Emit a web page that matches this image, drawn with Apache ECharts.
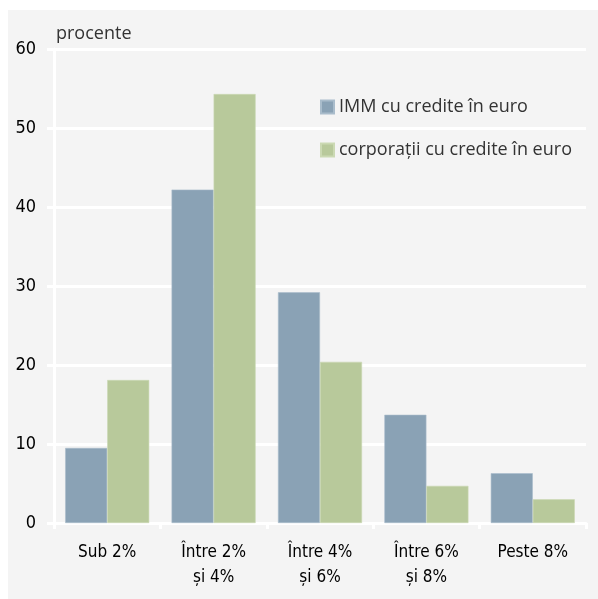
<!DOCTYPE html>
<html><head><meta charset="utf-8">
<script src="https://cdn.jsdelivr.net/npm/echarts@6/dist/echarts.min.js"></script>
<style>
html,body{margin:0;padding:0;background:#fff;width:598px;height:599px;overflow:hidden}
#c{position:absolute;left:8px;top:10px;width:590px;height:589px;background:#f4f4f4}
</style></head><body><div id="c"></div>
<script>
const categories = ['Sub 2%', 'Între 2%\nși 4%', 'Între 4%\nși 6%', 'Între 6%\nși 8%', 'Peste 8%'];
const immValues = [9.5, 42.2, 29.2, 13.7, 6.3];
const corpValues = [18.1, 54.3, 20.4, 4.7, 3.0];
const seriesNames = ['IMM cu credite în euro', 'corporații cu credite în euro'];
const yTicks = { min: 0, max: 60, interval: 10 };

const chart = echarts.init(document.getElementById('c'));
const condensed = '"DejaVu Sans Condensed", "Liberation Sans Narrow", sans-serif';
chart.setOption({
  animation: false,
  backgroundColor: '#f4f4f4',
  title: { text: 'procente', left: 43, top: 10, textStyle: { fontFamily: '"Open Sans", sans-serif', fontWeight: 'normal', fontSize: 18, color: '#333' } },
  legend: {
    orient: 'vertical', left: 307, top: 83, itemWidth: 13, itemHeight: 13, itemGap: 25,
    textStyle: { fontFamily: '"Open Sans", sans-serif', fontSize: 18, color: '#333' },
    icon: 'rect', data: seriesNames
  },
  grid: { left: 46, right: 12, top: 39, bottom: 76 },
  xAxis: {
    type: 'category', data: categories,
    axisLine: { show: true, lineStyle: { color: '#ffffff', width: 3 } },
    axisTick: { show: true, length: 6, lineStyle: { color: '#ffffff', width: 3 } },
    axisLabel: { margin: 17, fontFamily: condensed, fontSize: 17, color: '#000', lineHeight: 25 }
  },
  yAxis: {
    type: 'value', min: yTicks.min, max: yTicks.max, interval: yTicks.interval,
    axisLine: { show: true, lineStyle: { color: '#ffffff', width: 3 } },
    axisTick: { show: true, length: 7, lineStyle: { color: '#ffffff', width: 3 } },
    splitLine: { show: true, lineStyle: { color: '#ffffff', width: 3 } },
    axisLabel: { margin: 18, fontFamily: condensed, fontSize: 18, color: '#000' }
  },
  series: [
    { name: seriesNames[0], type: 'bar', data: immValues, barWidth: '39.5%', barGap: '0%',
      itemStyle: { color: '#8aa2b5', borderColor: '#a9bccb', borderWidth: 0.6 } },
    { name: seriesNames[1], type: 'bar', data: corpValues, barWidth: '39.5%', barGap: '0%',
      itemStyle: { color: '#b8c99b', borderColor: '#cbd9b3', borderWidth: 0.6 } }
  ]
});
</script></body></html>
